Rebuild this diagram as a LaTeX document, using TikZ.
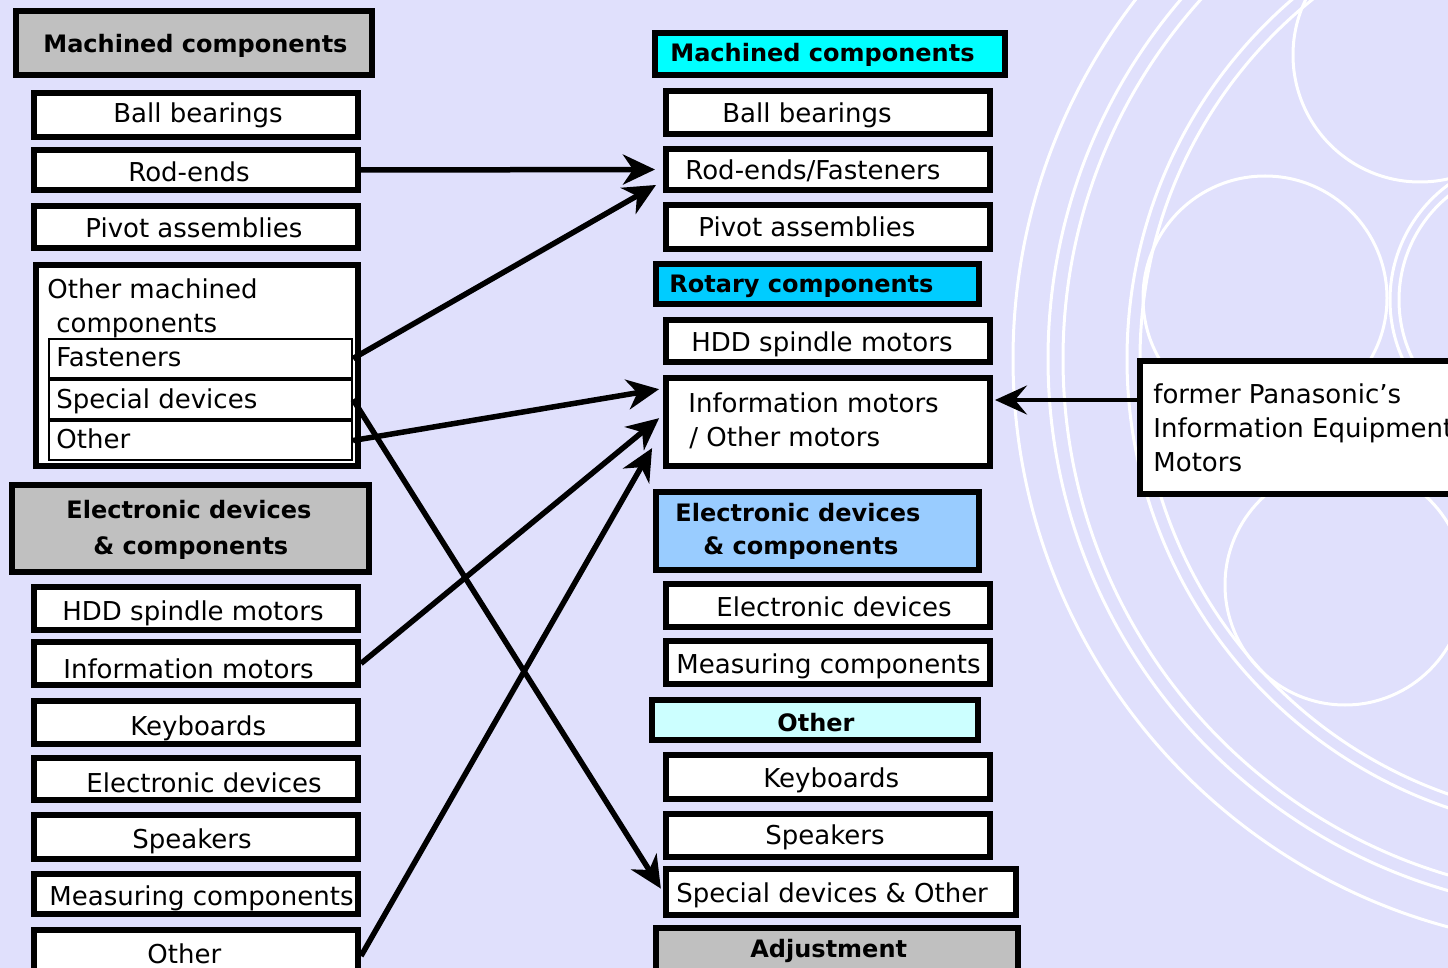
\documentclass[tikz,border=0pt]{standalone}
\usepackage{fontspec}
\setmainfont{DejaVu Sans}
\usetikzlibrary{arrows.meta}
\definecolor{bg}{RGB}{224,224,252}
\definecolor{hgray}{RGB}{192,192,192}
\definecolor{hcyan}{RGB}{0,255,255}
\definecolor{hsky}{RGB}{0,204,255}
\definecolor{hblue}{RGB}{153,204,255}
\definecolor{hpale}{RGB}{204,255,255}
% \bx{name}{x1}{y1}{x2}{y2}{line width in pt}{style}  (outer extents in px)
\newcommand\bx[7]{%
  \pgfmathsetmacro\bxw{(#4-#2)/2-#6}%
  \pgfmathsetmacro\bxh{(#5-#3)/2-#6}%
  \node[#7, line width=#6pt, minimum width=\bxw pt, minimum height=\bxh pt] (#1) at ({(#2+#4)/2},{(#3+#5)/2}) {};}
\begin{document}
\begin{tikzpicture}[x=0.5pt,y=-0.5pt,
  box/.style={draw=black, fill=white, inner sep=0pt},
  hbox/.style={draw=black, inner sep=0pt},
  txt/.style={inner sep=0pt, anchor=base west, font=\fontsize{13}{15}\selectfont},
  btxt/.style={inner sep=0pt, anchor=base west, font=\fontsize{12}{14}\selectfont\bfseries},
  deco/.style={draw=white, line width=1.5pt},
  link/.style={line width=2.75pt, -{Stealth[length=16pt,width=15pt,inset=5pt]}},
  tlink/.style={line width=2pt, -{Stealth[length=16pt,width=14.5pt,inset=6pt]}},
]
\useasboundingbox (0,0) rectangle (1448,968);
\clip (0,0) rectangle (1448,968);
\fill[bg] (0,0) rectangle (1448,968);

% background decoration
\draw[deco] (1601,359) circle[radius=294pt];
\draw[deco] (1601,359) circle[radius=276.5pt];
\draw[deco] (1601,359) circle[radius=269pt];
\draw[deco] (1601,359) circle[radius=237pt];
\draw[deco] (1601,359) circle[radius=230.5pt];
\draw[deco] (1420,55) circle[radius=63.5pt];
\draw[deco] (1265,298) circle[radius=61pt];
\draw[deco] (1533,300) circle[radius=71.5pt];
\draw[deco] (1533,300) circle[radius=67pt];
\draw[deco] (1345,585) circle[radius=60pt];

% left column boxes
\bx{lh1}{13}{8}{375}{78}{3}{hbox, fill=hgray}
\bx{lbb}{31}{90}{361}{140}{3}{box}
\bx{lre}{31}{147}{361}{193}{3}{box}
\bx{lpa}{31}{203}{361}{251}{3}{box}
\bx{lom}{33}{262}{361}{469}{3}{box}
\bx{lfa}{48}{338}{353}{379}{1}{box}
\bx{lsd}{48}{379}{353}{420}{1}{box}
\bx{lot}{48}{420}{353}{461}{1}{box}
\bx{lh2}{9}{482}{372}{575}{3}{hbox, fill=hgray}
\bx{lhdd}{31}{584}{361}{633}{3}{box}
\bx{lim}{31}{639}{361}{688}{3}{box}
\bx{lkb}{31}{698}{361}{747}{3}{box}
\bx{led}{31}{755}{361}{803}{3}{box}
\bx{lsp}{31}{812}{361}{862}{3}{box}
\bx{lmc}{31}{871}{361}{917}{3}{box}
\bx{loo}{31}{927}{361}{985}{3}{box}

% right column boxes
\bx{rh1}{652}{30}{1008}{78}{3}{hbox, fill=hcyan}
\bx{rbb}{663}{88}{993}{137}{3}{box}
\bx{rre}{663}{146}{993}{193}{3}{box}
\bx{rpa}{663}{202}{993}{252}{3}{box}
\bx{rh2}{653}{261}{982}{307}{3}{hbox, fill=hsky}
\bx{rhdd}{663}{317}{993}{365}{3}{box}
\bx{rim}{663}{375}{993}{469}{3}{box}
\bx{rh3}{653}{489}{982}{573}{3}{hbox, fill=hblue}
\bx{red}{663}{581}{993}{630}{3}{box}
\bx{rmc}{663}{638}{993}{687}{3}{box}
\bx{rh4}{649}{697}{981}{743}{3}{hbox, fill=hpale}
\bx{rkb}{663}{752}{993}{802}{3}{box}
\bx{rsp}{663}{811}{993}{860}{3}{box}
\bx{rso}{663}{866}{1019}{918}{3}{box}
\bx{rh5}{653}{925}{1021}{985}{3}{hbox, fill=hgray}
\bx{pan}{1137}{358}{1470}{497}{3}{box}

% left column texts
\node[btxt] (tlh1) at (43,53) {Machined components};
\node[txt] (tlbb) at (113,123) {Ball bearings};
\node[txt] (tlre) at (128,182) {Rod-ends};
\node[txt] (tlpa) at (85,238) {Pivot assemblies};
\node[txt] (tlom1) at (47,299) {Other machined};
\node[txt] (tlom2) at (56,333) {components};
\node[txt] (tlfa) at (56,367) {Fasteners};
\node[txt] (tlsd) at (56,409) {Special devices};
\node[txt] (tlot) at (56,449) {Other};
\node[btxt] (tlh2a) at (66,519) {Electronic devices};
\node[btxt] (tlh2b) at (93,555) {\& components};
\node[txt] (tlhdd) at (62,621) {HDD spindle motors};
\node[txt] (tlim) at (63,678) {Information motors};
\node[txt] (tlkb) at (130,735) {Keyboards};
\node[txt] (tled) at (86,792) {Electronic devices};
\node[txt] (tlsp) at (132,848) {Speakers};
\node[txt] (tlmc) at (49,905) {Measuring components};
\node[txt] (tloo) at (147,963) {Other};

% right column texts
\node[btxt] (trh1) at (670,62) {Machined components};
\node[txt] (trbb) at (722,123) {Ball bearings};
\node[txt] (trre) at (685,180) {Rod-ends/Fasteners};
\node[txt] (trpa) at (698,237) {Pivot assemblies};
\node[btxt] (trh2) at (669,293) {Rotary components};
\node[txt] (trhdd) at (691,352) {HDD spindle motors};
\node[txt] (trim1) at (688,413) {Information motors};
\node[txt] (trim2) at (689,447) {/ Other motors};
\node[btxt] (trh3a) at (675,522) {Electronic devices};
\node[btxt] (trh3b) at (703,555) {\& components};
\node[txt] (tred) at (716,617) {Electronic devices};
\node[txt] (trmc) at (676,674) {Measuring components};
\node[btxt] (trh4) at (777,731) {Other};
\node[txt] (trkb) at (763,787) {Keyboards};
\node[txt] (trsp) at (765,844) {Speakers};
\node[txt] (trso) at (676,902) {Special devices \& Other};
\node[btxt] (trh5) at (750,957) {Adjustment};
\node[txt] (tpan1) at (1153,404) {former Panasonic’s};
\node[txt] (tpan2) at (1153,438) {Information Equipment};
\node[txt] (tpan3) at (1153,472) {Motors};

% connectors
\draw[link, shorten >=4pt] (lre.east) -- (rre.west);
\draw[link, shorten >=4pt] (lfa.east) -- ([yshift=-5.75pt]rre.west);
\draw[link, shorten >=2pt] (lot.east) -- ([yshift=16.75pt]rim.west);
\draw[link, shorten >=2.5pt] (lim.east) -- ([yshift=3.5pt]rim.west);
\draw[link, shorten >=11pt] (loo.east) -- ([yshift=-3.5pt]rim.west);
\draw[link, shorten >=2pt] (lsd.east) -- (rso.west);
\draw[tlink, shorten >=1pt] ([yshift=13.75pt]pan.west) -- ([yshift=11pt]rim.east);
\end{tikzpicture}
\end{document}
